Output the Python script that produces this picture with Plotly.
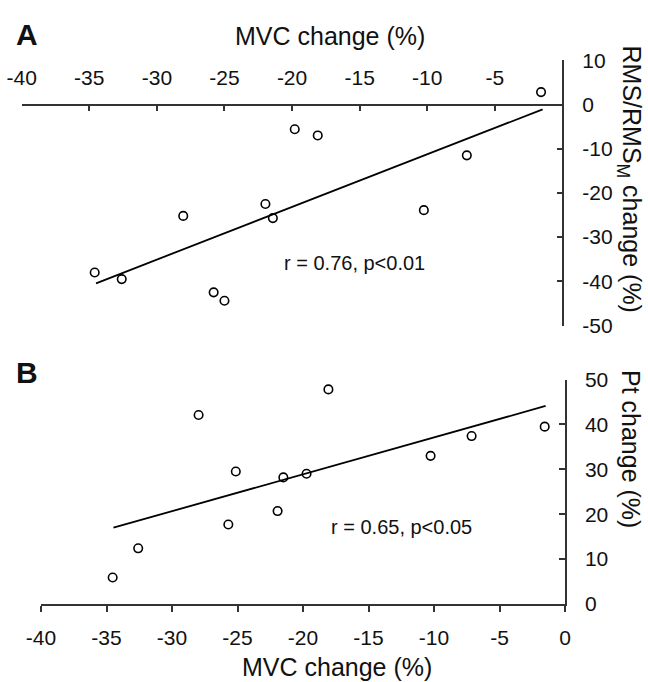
import plotly.graph_objects as go

# ---- Panel A data: MVC change (%) vs RMS/RMS_M change (%)
mvc_a = [-34.6, -32.6, -28.05, -25.8, -25.0, -21.97, -21.42, -19.8, -18.1, -10.25, -7.07, -1.58]
rms_a = [-38.0, -39.5, -25.2, -42.5, -44.4, -22.5, -25.7, -5.6, -7.0, -23.9, -11.5, 2.8]
fit_a_x = [-34.5, -1.46]
fit_a_y = [-40.45, -1.1]

# ---- Panel B data: MVC change (%) vs Pt change (%)
mvc_b = [-34.53, -32.58, -27.97, -25.7, -25.13, -21.94, -21.5, -19.73, -18.06, -10.26, -7.13, -1.55]
pt_b = [5.9, 12.4, 42.1, 17.7, 29.5, 20.7, 28.2, 29.0, 47.8, 33.0, 37.4, 39.5]
fit_b_x = [-34.47, -1.48]
fit_b_y = [17.0, 44.1]

x_ticks_top = [-40, -35, -30, -25, -20, -15, -10, -5]
x_ticks_bottom = [-40, -35, -30, -25, -20, -15, -10, -5, 0]
y_ticks_a = [10, 0, -10, -20, -30, -40, -50]
y_ticks_b = [0, 10, 20, 30, 40, 50]

FONT = "Liberation Sans, Arial, sans-serif"
INK = "#111111"
AXC = "#333333"

fig = go.Figure()

marker = dict(symbol="circle-open", size=8.5, color="black", line=dict(width=1.6, color="black"))

fig.add_trace(go.Scatter(x=mvc_a, y=rms_a, mode="markers", marker=marker, xaxis="x", yaxis="y", showlegend=False))
fig.add_trace(go.Scatter(x=fit_a_x, y=fit_a_y, mode="lines", line=dict(color="black", width=1.8), xaxis="x", yaxis="y", showlegend=False))
fig.add_trace(go.Scatter(x=mvc_b, y=pt_b, mode="markers", marker=marker, xaxis="x2", yaxis="y2", showlegend=False))
fig.add_trace(go.Scatter(x=fit_b_x, y=fit_b_y, mode="lines", line=dict(color="black", width=1.8), xaxis="x2", yaxis="y2", showlegend=False))

W, H = 648, 682
def px(x):
    return x / W
def py(y):
    return 1 - y / H

tickfont = dict(family=FONT, size=21, color=INK)
common = dict(showline=True, linecolor=AXC, linewidth=1.5, ticklen=6, tickwidth=1.5, tickcolor=AXC,
              showgrid=False, zeroline=False, automargin=False, tickfont=tickfont)

fig.update_layout(
    width=W, height=H,
    margin=dict(l=0, r=0, t=0, b=0),
    paper_bgcolor="white", plot_bgcolor="white",
    template="none",
    xaxis=dict(domain=[px(21.7), px(562.4)], range=[-40, 0], side="top", ticks="inside",
               anchor="free", position=py(104.5), tickvals=x_ticks_top,
               ticktext=[str(v) for v in x_ticks_top], ticklabelstandoff=10, **common),
    yaxis=dict(domain=[py(325.5), py(60.3)], range=[-50, 10], side="right", ticks="inside",
               anchor="x", tickvals=y_ticks_a, ticktext=[str(v) for v in y_ticks_a],
               ticklabelstandoff=14, **common),
    xaxis2=dict(domain=[px(41), px(565)], range=[-40, 0], side="bottom", ticks="outside",
                anchor="y2", tickvals=x_ticks_bottom, ticktext=[str(v) for v in x_ticks_bottom],
                ticklabelstandoff=8, **common),
    yaxis2=dict(domain=[py(604), py(379.5)], range=[0, 50], side="right", ticks="inside",
                anchor="x2", tickvals=y_ticks_b, ticktext=[str(v) for v in y_ticks_b],
                ticklabelstandoff=14, **common),
)

title_font = dict(family=FONT, size=25, color=INK)
C = dict(xanchor="center", yanchor="middle", showarrow=False)
ann = [
    dict(text="MVC change (%)", x=px(329.5), y=py(36), xref="paper", yref="paper", font=title_font, **C),
    dict(text="MVC change (%)", x=px(337), y=py(667), xref="paper", yref="paper", font=title_font, **C),
    dict(text="RMS/RMS<sub>M</sub> change (%)", x=px(630), y=py(178.5), xref="paper", yref="paper",
         textangle=90, font=title_font, **C),
    dict(text="Pt change (%)", x=px(631), y=py(449), xref="paper", yref="paper",
         textangle=90, font=title_font, **C),
    dict(text="<b>A</b>", x=px(27), y=py(35), xref="paper", yref="paper",
         font=dict(family=FONT, size=30, color=INK), **C),
    dict(text="<b>B</b>", x=px(27), y=py(372), xref="paper", yref="paper",
         font=dict(family=FONT, size=30, color=INK), **C),
    dict(text="r = 0.76, p<0.01", x=-15.38, y=-35.8, xref="x", yref="y",
         font=dict(family=FONT, size=20, color=INK), **C),
    dict(text="r = 0.65, p<0.05", x=-12.46, y=17.2, xref="x2", yref="y2",
         font=dict(family=FONT, size=20, color=INK), **C),
]
fig.update_layout(annotations=ann)

fig.write_html("out.html", config={"displayModeBar": False},
               post_script="document.body.style.margin='0';document.body.style.overflow='hidden';")
